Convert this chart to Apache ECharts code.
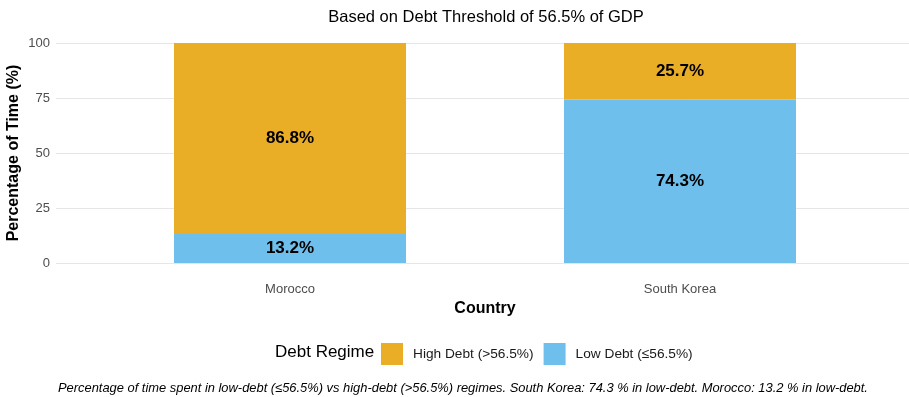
<!DOCTYPE html>
<html>
<head>
<meta charset="utf-8">
<script src="https://cdn.jsdelivr.net/npm/echarts@6/dist/echarts.min.js"></script>
<style>
  html, body { margin: 0; padding: 0; background: #fff; }
  #chart { width: 909px; height: 397px; }
</style>
</head>
<body>
<div id="chart"></div>
<script>
const countries = ['Morocco', 'South Korea']
const countryPos = [1, 2]
const lowDebt = [13.2, 74.3]
const highDebt = [86.8, 25.7]

const myChart = echarts.init(document.getElementById('chart'))

const gridColor = '#e6e6e6'
const labelColor = '#4d4d4d'
const font = 'Liberation Sans, Arial, sans-serif'

const barLabel = {
  show: true,
  position: 'inside',
  color: '#000',
  fontSize: 17,
  fontWeight: 'bold',
  fontFamily: font,
  formatter: (p) => p.value.toFixed(1) + '%'
}

const options = {
  animation: false,
  title: {
    text: 'Based on Debt Threshold of 56.5% of GDP',
    left: 481,
    textAlign: 'center',
    top: 4,
    textStyle: { fontSize: 16.5, fontWeight: 'normal', color: '#000', fontFamily: font }
  },
  // grid 0: panel background (gridlines, labels), grid 1: bars
  grid: [
    { left: 56, top: 43, width: 858, height: 220, containLabel: false, outerBoundsMode: 'none' },
    { left: 95, top: 43, width: 780, height: 220, containLabel: false, outerBoundsMode: 'none' }
  ],
  legend: {
    data: ['High Debt (>56.5%)', 'Low Debt (\u226456.5%)'],
    left: 381,
    top: 343,
    padding: 0,
    itemWidth: 22,
    itemHeight: 22,
    itemGap: 10,
    icon: 'rect',
    textStyle: { fontSize: 13.7, color: '#1a1a1a', fontFamily: font, padding: [0, 0, 0, 5] }
  },
  graphic: [
    {
      type: 'text',
      left: 275,
      top: 344,
      style: { text: 'Debt Regime', fontSize: 17, fill: '#000', fontFamily: font }
    },
    {
      type: 'text',
      left: 58,
      top: 382,
      style: {
        text: 'Percentage of time spent in low-debt (\u226456.5%) vs high-debt (>56.5%) regimes. South Korea: 74.3 % in low-debt. Morocco: 13.2 % in low-debt.',
        fontSize: 12.9, fontStyle: 'italic', fill: '#000', fontFamily: font
      }
    }
  ],
  xAxis: [
    {
      gridIndex: 0,
      type: 'value',
      min: 0.4,
      max: 2.6,
      name: 'Country',
      nameLocation: 'middle',
      nameGap: 38,
      nameMoveOverlap: false,
      nameTextStyle: { fontSize: 16, fontWeight: 'bold', color: '#000', fontFamily: font },
      axisLine: { show: false },
      axisTick: { show: false, customValues: countryPos },
      axisLabel: {
        customValues: countryPos,
        color: labelColor,
        fontSize: 13,
        fontFamily: font,
        margin: 20,
        formatter: (v) => countries[Math.round(v) - 1] || ''
      },
      splitLine: { show: true, lineStyle: { color: gridColor, width: 1 } }
    },
    {
      gridIndex: 1,
      type: 'category',
      data: countries,
      boundaryGap: true,
      show: false
    }
  ],
  yAxis: [
    {
      gridIndex: 0,
      type: 'value',
      min: 0,
      max: 100,
      interval: 25,
      name: 'Percentage of Time (%)',
      nameLocation: 'middle',
      nameGap: 34,
      nameMoveOverlap: false,
      nameTextStyle: { fontSize: 16, fontWeight: 'bold', color: '#000', fontFamily: font },
      axisLine: { show: false },
      axisTick: { show: false },
      axisLabel: { color: labelColor, fontSize: 13, fontFamily: font, margin: 6 },
      splitLine: { lineStyle: { color: gridColor, width: 1 } }
    },
    {
      gridIndex: 1,
      type: 'value',
      min: 0,
      max: 100,
      show: false,
      splitLine: { show: false }
    }
  ],
  color: ['#EAAD26', '#6FBFEC'],
  series: [
    {
      name: 'Low Debt (\u226456.5%)',
      type: 'bar',
      xAxisIndex: 1,
      yAxisIndex: 1,
      stack: 'total',
      barWidth: 232,
      itemStyle: { color: '#6FBFEC' },
      label: barLabel,
      data: lowDebt
    },
    {
      name: 'High Debt (>56.5%)',
      type: 'bar',
      xAxisIndex: 1,
      yAxisIndex: 1,
      stack: 'total',
      barWidth: 232,
      itemStyle: { color: '#EAAD26' },
      label: barLabel,
      data: highDebt
    }
  ]
}
myChart.setOption(options)
</script>
</body>
</html>
